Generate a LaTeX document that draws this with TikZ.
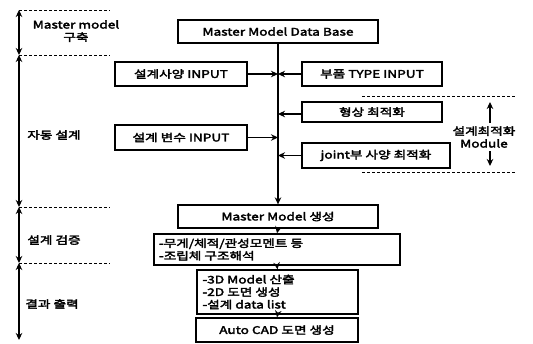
\documentclass[tikz,border=0pt]{standalone}
\usepackage{fontspec}
\setmainfont{Noto Sans CJK KR}[FakeStretch=1.3, AutoFakeBold=3]
\usetikzlibrary{arrows.meta}
\begin{document}
\begin{tikzpicture}[x=1pt,y=-1pt,
  box/.style={draw, line width=1.3pt, inner sep=0pt, align=center,
    font=\fontsize{10.5}{12.5}\selectfont\bfseries},
  arr/.style={-{Stealth[length=7pt,width=6.5pt]}, line width=1.2pt},
  axis/.style={{Stealth[length=7pt,width=6.5pt]}-{Stealth[length=7pt,width=6.5pt]}, line width=1.1pt},
  guide/.style={line width=0.9pt, dash pattern=on 3pt off 2pt},
  lab/.style={font=\fontsize{10.5}{12.5}\selectfont\bfseries, align=center}]
\useasboundingbox (0,0) rectangle (533,344);
% center boxes
\node[box, minimum width=200, minimum height=23] (db) at (278,31.5) {Master Model Data Base};
\node[box, minimum width=132, minimum height=24] (spec) at (181,74) {설계사양 INPUT};
\node[box, minimum width=140, minimum height=24] (ptype) at (372,74) {부품 TYPE INPUT};
\node[box, minimum width=140, minimum height=20] (shape) at (372,112) {형상 최적화};
\node[box, minimum width=132, minimum height=25] (var) at (181,137.5) {설계 변수 INPUT};
\node[box, minimum width=148, minimum height=25] (joint) at (376,155.5) {joint부 사양 최적화};
\node[box, minimum width=200, minimum height=23] (mm) at (278,216.5) {Master Model 생성};
\node[box, minimum width=246, minimum height=31, align=left] (verify) at (277,249.5)
  {\makebox[236pt][l]{-무게/체적/관성모멘트 등}\\\makebox[236pt][l]{-조립체 구조해석}};
\node[box, minimum width=161, minimum height=44, align=left] (out) at (277.5,292)
  {\makebox[150pt][l]{-3D Model 산출}\\\makebox[150pt][l]{-2D 도면 생성}\\\makebox[150pt][l]{-설계 data list}};
\node[box, minimum width=162, minimum height=24] (cad) at (277,330) {Auto CAD 도면 생성};
% spine
\coordinate (j1) at (278,74);
\coordinate (j2) at (278,114);
\coordinate (j3) at (278,137.5);
\coordinate (j4) at (278,155.5);
\draw[arr] (db.south) -- (mm.north);
\draw[arr] (spec.east) -- (j1);
\draw[arr] (ptype.west) -- (j1);
\draw[arr] (shape.west |- j2) -- (j2);
\draw[arr] (var.east) -- (j3);
\draw[arr] (joint.west) -- (j4);
\draw[arr] (mm.south) -- (verify.north);
\draw[arr] (verify.south) -- (out.north);
\draw[arr] (out.south) -- (cad.north);
% left axis
\coordinate (a0) at (19,10);
\coordinate (a1) at (19,55);
\coordinate (a2) at (19,207);
\coordinate (a3) at (19,263);
\coordinate (a4) at (19,340);
\draw[axis] (a0) -- (a1);
\draw[axis] (a1) -- (a2);
\draw[axis] (a2) -- (a3);
\draw[axis] (a3) -- (a4);
\coordinate (g0) at (110,10);
\coordinate (g1) at (110,55);
\coordinate (g2) at (110,207);
\coordinate (g3) at (110,263);
\draw[guide] (a0) -- (g0);
\draw[guide] (a1) -- (g1);
\draw[guide] (a2) -- (g2);
\draw[guide] (a3) -- (g3);
\node[lab] (l1) at (76,31) {Master model\\구축};
\node[lab] (l2) at (54,135) {자동 설계};
\node[lab] (l3) at (54,240) {설계 검증};
\node[lab] (l4) at (52,304) {결과 출력};
% right optimisation module
\coordinate (r1a) at (362,96);
\coordinate (r1b) at (515,96);
\coordinate (r2a) at (362,172);
\coordinate (r2b) at (515,172);
\draw[guide] (r1a) -- (r1b);
\draw[guide] (r2a) -- (r2b);
\node[lab] (opt) at (484,137) {설계최적화\\Module};
\coordinate (up) at (490,102);
\coordinate (dn) at (490,166);
\draw[arr] (opt.north -| up) -- (up);
\draw[arr] (opt.south -| dn) -- (dn);
\end{tikzpicture}
\end{document}
